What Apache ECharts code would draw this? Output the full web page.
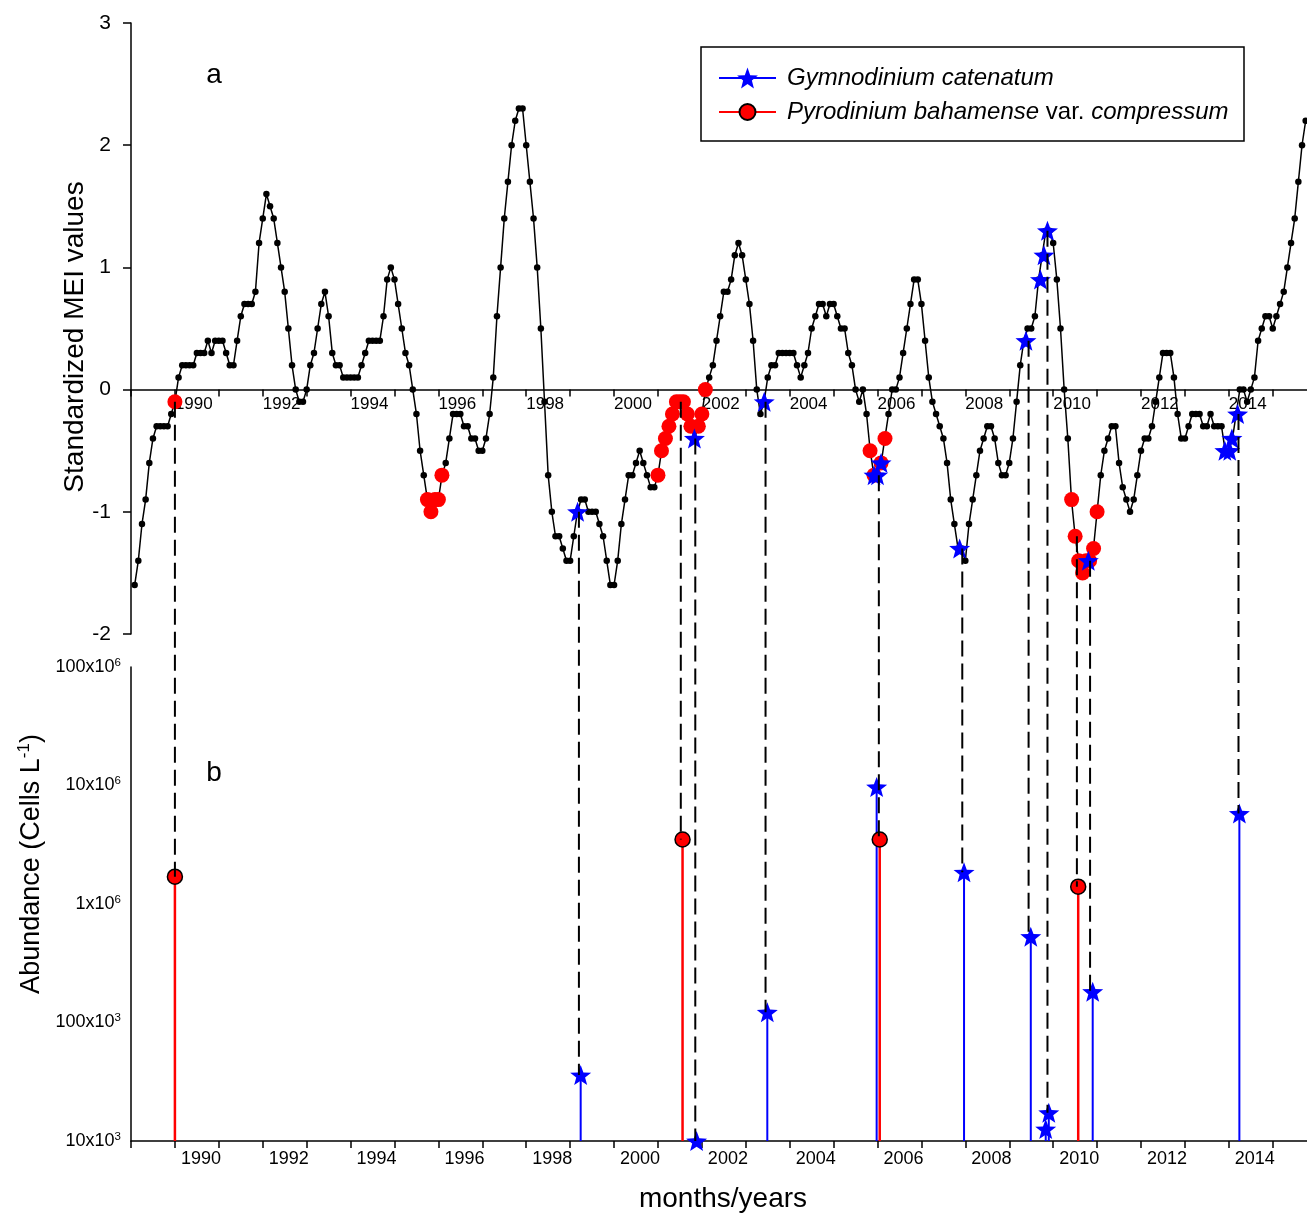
<!DOCTYPE html>
<html><head><meta charset="utf-8">
<script src="https://cdn.jsdelivr.net/npm/echarts@6/dist/echarts.min.js"></script>
<style>html,body{margin:0;padding:0;background:#fff}#c{width:1307px;height:1215px}</style>
</head><body><div id="c"></div><script>
const FONT = 'Liberation Sans, Arial, Helvetica, sans-serif';

// Monthly standardized MEI values, starting February 1989
const meiStartYear = 1989;
const meiStartMonth = 2;
const meiValues = [
 -1.6,-1.4,-1.1,-0.9,-0.6,-0.4,-0.3,-0.3,-0.3,-0.3,
 -0.2,-0.1,0.1,0.2,0.2,0.2,0.2,0.3,0.3,0.3,
 0.4,0.3,0.4,0.4,0.4,0.3,0.2,0.2,0.4,0.6,
 0.7,0.7,0.7,0.8,1.2,1.4,1.6,1.5,1.4,1.2,
 1.0,0.8,0.5,0.2,0.0,-0.1,-0.1,0.0,0.2,0.3,
 0.5,0.7,0.8,0.6,0.3,0.2,0.2,0.1,0.1,0.1,
 0.1,0.1,0.2,0.3,0.4,0.4,0.4,0.4,0.6,0.9,
 1.0,0.9,0.7,0.5,0.3,0.2,0.0,-0.2,-0.5,-0.7,
 -0.9,-1.0,-0.9,-0.9,-0.7,-0.6,-0.4,-0.2,-0.2,-0.2,
 -0.3,-0.3,-0.4,-0.4,-0.5,-0.5,-0.4,-0.2,0.1,0.6,
 1.0,1.4,1.7,2.0,2.2,2.3,2.3,2.0,1.7,1.4,
 1.0,0.5,-0.1,-0.7,-1.0,-1.2,-1.2,-1.3,-1.4,-1.4,
 -1.2,-1.0,-0.9,-0.9,-1.0,-1.0,-1.0,-1.1,-1.2,-1.4,
 -1.6,-1.6,-1.4,-1.1,-0.9,-0.7,-0.7,-0.6,-0.5,-0.6,
 -0.7,-0.8,-0.8,-0.7,-0.5,-0.4,-0.3,-0.2,-0.1,-0.1,
 -0.1,-0.2,-0.3,-0.4,-0.3,-0.2,0.0,0.1,0.2,0.4,
 0.6,0.8,0.8,0.9,1.1,1.2,1.1,0.9,0.7,0.4,
 0.0,-0.2,-0.1,0.1,0.2,0.2,0.3,0.3,0.3,0.3,
 0.3,0.2,0.1,0.2,0.3,0.5,0.6,0.7,0.7,0.6,
 0.7,0.7,0.6,0.5,0.5,0.3,0.2,0.0,-0.1,0.0,
 -0.2,-0.5,-0.7,-0.7,-0.6,-0.4,-0.2,0.0,0.0,0.1,
 0.3,0.5,0.7,0.9,0.9,0.7,0.4,0.1,-0.1,-0.2,
 -0.3,-0.4,-0.6,-0.9,-1.1,-1.3,-1.3,-1.4,-1.1,-0.9,
 -0.7,-0.5,-0.4,-0.3,-0.3,-0.4,-0.6,-0.7,-0.7,-0.6,
 -0.4,-0.1,0.2,0.4,0.5,0.5,0.6,0.9,1.1,1.3,
 1.3,1.2,0.9,0.5,0.0,-0.4,-0.9,-1.2,-1.4,-1.5,
 -1.4,-1.4,-1.3,-1.0,-0.7,-0.5,-0.4,-0.3,-0.3,-0.6,
 -0.8,-0.9,-1.0,-0.9,-0.7,-0.5,-0.4,-0.4,-0.3,-0.1,
 0.1,0.3,0.3,0.3,0.1,-0.2,-0.4,-0.4,-0.3,-0.2,
 -0.2,-0.2,-0.3,-0.3,-0.2,-0.3,-0.3,-0.3,-0.5,-0.5,
 -0.4,-0.2,0.0,0.0,-0.1,0.0,0.1,0.4,0.5,0.6,
 0.6,0.5,0.6,0.7,0.8,1.0,1.2,1.4,1.7,2.0,2.2
];

// Axis ticks and labels
const xMin = 1989, xMax = 2015.78;
const yTopMin = -2, yTopMax = 3;
const xTickYears = [1989,1990,1991,1992,1993,1994,1995,1996,1997,1998,1999,2000,2001,2002,2003,2004,2005,2006,2007,2008,2009,2010,2011,2012,2013,2014,2015];
const xLabelYears = [1990,1992,1994,1996,1998,2000,2002,2004,2006,2008,2010,2012,2014];
const logTickLabels = {4:['10x10','3'],5:['100x10','3'],6:['1x10','6'],7:['10x10','6'],8:['100x10','6']};

// Bloom events on the MEI curve (year, MEI)
const pyroMEI = [
 [1990.00,-0.1],
 [1995.75,-0.9],[1995.83,-1.0],[1995.92,-0.9],[1996.00,-0.9],[1996.08,-0.7],
 [2001.00,-0.7],[2001.08,-0.5],[2001.17,-0.4],[2001.25,-0.3],[2001.33,-0.2],[2001.42,-0.1],[2001.50,-0.1],[2001.58,-0.1],[2001.67,-0.2],[2001.75,-0.3],[2001.92,-0.3],[2002.00,-0.2],[2002.08,0.0],
 [2005.83,-0.5],[2005.92,-0.7],[2006.08,-0.6],[2006.17,-0.4],
 [2010.42,-0.9],[2010.50,-1.2],[2010.58,-1.4],[2010.67,-1.5],[2010.75,-1.4],[2010.83,-1.4],[2010.92,-1.3],[2011.00,-1.0]
];
const gymnoMEI = [
 [1999.17,-1.0],[2001.83,-0.4],[2003.42,-0.1],
 [2005.92,-0.7],[2006.00,-0.7],[2006.08,-0.6],
 [2007.87,-1.3],[2009.38,0.4],[2009.71,0.9],[2009.79,1.1],[2009.87,1.3],
 [2010.80,-1.4],
 [2013.91,-0.5],[2014.02,-0.5],[2014.07,-0.4],[2014.20,-0.2]
];
// Maximum abundances (year, cells per litre)
const pyroAbund = [[1990.00,1.7e6],[2001.56,3.5e6],[2006.05,3.5e6],[2010.57,1.4e6]];
const gymnoAbund = [[1999.24,3.6e4],[2001.88,1.0e4],[2003.49,1.22e5],[2005.98,9.7e6],[2007.97,1.85e6],[2009.49,5.3e5],[2009.83,1.26e4],[2009.90,1.73e4],[2010.90,1.82e5],[2014.24,5.8e6]];
// Dashed connectors (year, MEI value, abundance)
const links = [
 [1990.00,-0.1,1.7e6],[1999.20,-1.0,3.6e4],[2001.52,-0.1,3.5e6],[2001.85,-0.4,1.0e4],
 [2003.45,-0.1,1.22e5],[2006.03,-0.7,3.5e6],[2007.93,-1.3,1.85e6],[2009.44,0.4,5.3e5],
 [2009.87,1.3,1.73e4],[2010.54,-1.2,1.4e6],[2010.84,-1.4,1.82e5],[2014.22,-0.2,5.8e6]
];

const STAR = 'path://M50,0L62.34,33.01L97.55,34.55L69.97,56.49L79.39,90.45L50,71L20.61,90.45L30.03,56.49L2.45,34.55L37.66,33.01Z';
const BLUE = '#0000ff', RED = '#ff0000';
const meiData = meiValues.map((v, i) => [meiStartYear + (meiStartMonth - 1 + i) / 12, v]);

const topGrid = {left: 131, top: 23, width: 1176, height: 611};
const botGrid = {left: 131, top: 667, width: 1176, height: 474};
// move the top x axis up onto the zero line
const zeroOffset = -topGrid.height * (0 - yTopMin) / (yTopMax - yTopMin);

function stem(color, width) {
  return function (params, api) {
    const top = api.coord([api.value(0), api.value(1)]);
    const base = api.coord([api.value(0), 1e4]);
    return {type: 'line', shape: {x1: top[0], y1: top[1], x2: base[0], y2: base[1]},
      style: {stroke: color, lineWidth: width}};
  };
}

const xAxisCommon = (grid, labelPad, fs, margin, offset) => ({
  type: 'value', gridIndex: grid, min: xMin, max: xMax, interval: 1, position: 'bottom', offset: offset,
  axisLine: {show: true, onZero: false, lineStyle: {color: '#000', width: 1.5}},
  axisTick: {show: true, length: 7, lineStyle: {color: '#000', width: 1.5}, customValues: xTickYears},
  axisLabel: {customValues: xLabelYears, align: 'left', margin: margin, padding: [0,0,0,labelPad],
    fontFamily: FONT, fontSize: fs, color: '#000', formatter: v => String(Math.round(v))},
  splitLine: {show: false}
});

const chart = echarts.init(document.getElementById('c'), null, {renderer: 'canvas'});
const option = {
  animation: false,
  backgroundColor: '#fff',
  grid: [topGrid, botGrid],
  xAxis: [xAxisCommon(0, 0, 17, 6, zeroOffset), xAxisCommon(1, 6, 18, 9, 0)],
  yAxis: [
    {type: 'value', gridIndex: 0, min: yTopMin, max: yTopMax, interval: 1,
     axisLine: {show: true, lineStyle: {color: '#000', width: 1.5}},
     axisTick: {show: true, length: 8, lineStyle: {color: '#000', width: 1.5}},
     axisLabel: {margin: 20, fontFamily: FONT, fontSize: 21, color: '#000'},
     splitLine: {show: false}},
    {type: 'log', logBase: 10, gridIndex: 1, min: 1e4, max: 1e8,
     axisLine: {show: true, lineStyle: {color: '#000', width: 1.5}},
     axisTick: {show: false}, splitLine: {show: false},
     axisLabel: {margin: 10, color: '#000',
       formatter: v => { const e = Math.round(Math.log10(v)); const l = logTickLabels[e]; return l ? '{n|' + l[0] + '}{s|' + l[1] + '}' : ''; },
       rich: {n: {fontFamily: FONT, fontSize: 18, lineHeight: 21, verticalAlign: 'middle', color: '#000'},
              s: {fontFamily: FONT, fontSize: 11.5, lineHeight: 11, verticalAlign: 'top', color: '#000'}}}}
  ],
  legend: [
    {data: ['Gymnodinium catenatum'], left: 718, top: 66, orient: 'vertical', padding: 0,
     itemWidth: 57, itemHeight: 26, selectedMode: false,
     textStyle: {fontFamily: FONT, fontSize: 24, fontStyle: 'italic', color: '#000', padding: [0,0,0,6]}},
    {data: ['Pyrodinium bahamense var. compressum'], left: 718, top: 100, orient: 'vertical', padding: 0,
     itemWidth: 57, itemHeight: 20, selectedMode: false,
     formatter: () => '{i|Pyrodinium bahamense}{n| var. }{i|compressum}',
     textStyle: {fontFamily: FONT, fontSize: 24, color: '#000', padding: [0,0,0,6],
       rich: {i: {fontFamily: FONT, fontSize: 24, fontStyle: 'italic', color: '#000'},
              n: {fontFamily: FONT, fontSize: 24, fontStyle: 'normal', color: '#000'}}}}
  ],
  series: [
    {name: 'MEI', type: 'line', xAxisIndex: 0, yAxisIndex: 0, data: meiData, z: 2,
     symbol: 'circle', symbolSize: 6.5, showAllSymbol: true, silent: true,
     itemStyle: {color: '#000'}, lineStyle: {color: '#000', width: 1.5}},
    {name: 'pyroTop', type: 'scatter', xAxisIndex: 0, yAxisIndex: 0, data: pyroMEI, z: 5,
     symbol: 'circle', symbolSize: 15, itemStyle: {color: RED, opacity: 1, borderWidth: 0}, silent: true},
    {name: 'gymnoTop', type: 'scatter', xAxisIndex: 0, yAxisIndex: 0, data: gymnoMEI, z: 6,
     symbol: STAR, symbolSize: [21, 20], itemStyle: {color: BLUE, opacity: 1}, silent: true},
    {name: 'pyroStem', type: 'custom', xAxisIndex: 1, yAxisIndex: 1, data: pyroAbund, renderItem: stem(RED, 2.5), silent: true, z: 3},
    {name: 'gymnoStem', type: 'custom', xAxisIndex: 1, yAxisIndex: 1, data: gymnoAbund, renderItem: stem(BLUE, 2), silent: true, z: 3},
    {name: 'pyroBottom', type: 'scatter', xAxisIndex: 1, yAxisIndex: 1, data: pyroAbund, z: 5,
     symbol: 'circle', symbolSize: 15, itemStyle: {color: RED, borderColor: '#000', borderWidth: 1.5, opacity: 1}, silent: true},
    {name: 'gymnoBottom', type: 'scatter', xAxisIndex: 1, yAxisIndex: 1, data: gymnoAbund, z: 6,
     symbol: STAR, symbolSize: [21, 20], itemStyle: {color: BLUE, opacity: 1}, silent: true},
    // legend entries
    {name: 'Gymnodinium catenatum', type: 'line', xAxisIndex: 0, yAxisIndex: 0, data: [],
     symbol: STAR, itemStyle: {color: BLUE}, lineStyle: {color: BLUE, width: 2}},
    {name: 'Pyrodinium bahamense var. compressum', type: 'line', xAxisIndex: 0, yAxisIndex: 0, data: [],
     symbol: 'circle', itemStyle: {color: RED, borderColor: '#000', borderWidth: 1.5}, lineStyle: {color: RED, width: 2}}
  ]
};
chart.setOption(option);

const els = [
  {type: 'rect', shape: {x: 701, y: 47, width: 543, height: 94}, style: {fill: '#fff', stroke: '#000', lineWidth: 1.5}, z: 1},
  {type: 'text', x: 214, y: 75, style: {text: 'a', fontFamily: FONT, fontSize: 28, fill: '#000', align: 'center', verticalAlign: 'middle'}},
  {type: 'text', x: 214, y: 773, style: {text: 'b', fontFamily: FONT, fontSize: 28, fill: '#000', align: 'center', verticalAlign: 'middle'}},
  {type: 'text', x: 75, y: 337, rotation: Math.PI / 2,
   style: {text: 'Standardized MEI values', fontFamily: FONT, fontSize: 28, fill: '#000', align: 'center', verticalAlign: 'middle'}},
  {type: 'text', x: 32, y: 864, rotation: Math.PI / 2,
   style: {text: '{n|Abundance (Cells L}{s|-1}{n|)}', align: 'center', verticalAlign: 'middle',
     rich: {n: {fontFamily: FONT, fontSize: 27, lineHeight: 32, verticalAlign: 'middle', fill: '#000'},
            s: {fontFamily: FONT, fontSize: 17, lineHeight: 17, verticalAlign: 'top', fill: '#000'}}}},
  {type: 'text', x: 723, y: 1199, style: {text: 'months/years', fontFamily: FONT, fontSize: 28, fill: '#000', align: 'center', verticalAlign: 'middle'}}
];
links.forEach(([yr, mei, ab]) => {
  const p1 = chart.convertToPixel({gridIndex: 0}, [yr, mei]);
  const p2 = chart.convertToPixel({gridIndex: 1}, [yr, ab]);
  els.push({type: 'line', shape: {x1: p1[0], y1: p1[1], x2: p2[0], y2: p2[1]},
    style: {stroke: '#000', lineWidth: 2, lineDash: [16, 7]}, z: 100, silent: true});
});
chart.setOption({graphic: {elements: els}});
</script></body></html>
